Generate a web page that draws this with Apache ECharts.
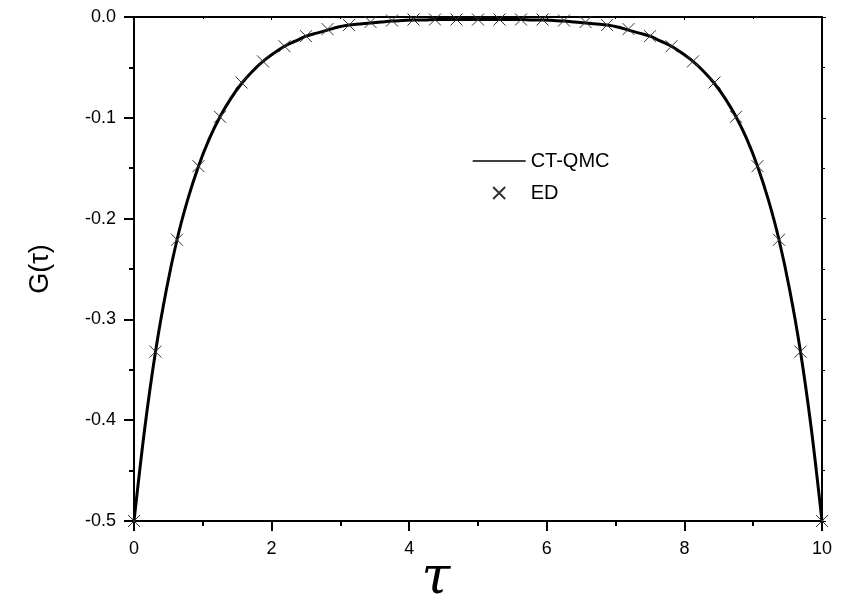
<!DOCTYPE html>
<html>
<head>
<meta charset="utf-8">
<script src="https://cdn.jsdelivr.net/npm/echarts@6/dist/echarts.min.js"></script>
<style>html,body{margin:0;padding:0;background:#fff;}#c{width:841px;height:601px;}</style>
</head>
<body>
<div id="c"></div>
<script>
// CT-QMC curve: tau values (step 10/64) and G values
const qmcTau = [];
for (let i = 0; i <= 64; i++) qmcTau.push(i * 10 / 64);
const qmcG = [
  -0.500, -0.408, -0.332, -0.271, -0.221, -0.181, -0.148, -0.121, -0.099, -0.081,
  -0.066, -0.054, -0.044, -0.036, -0.029, -0.024, -0.019, -0.016, -0.013, -0.010,
  -0.008, -0.007, -0.006, -0.005, -0.004, -0.0035, -0.003, -0.003, -0.0025, -0.0025,
  -0.0025, -0.0025, -0.0025,
  -0.0025, -0.0025, -0.0025, -0.0025, -0.003, -0.003, -0.0035, -0.004, -0.005, -0.006,
  -0.007, -0.008, -0.010, -0.013, -0.016, -0.019, -0.024, -0.029, -0.036, -0.044,
  -0.054, -0.066, -0.081, -0.099, -0.121, -0.148, -0.181, -0.221, -0.271, -0.332,
  -0.408, -0.500
];
// ED points: tau step 10/32
const edTau = [];
for (let i = 0; i <= 32; i++) edTau.push(i * 10 / 32);
const edG = [
  -0.500, -0.332, -0.221, -0.148, -0.099, -0.065, -0.044, -0.029, -0.019, -0.012,
  -0.008, -0.005, -0.0035, -0.0025, -0.0025, -0.0025, -0.0025, -0.0025, -0.0025, -0.0025,
  -0.0035, -0.005, -0.008, -0.012, -0.019, -0.029, -0.044, -0.065, -0.099, -0.148,
  -0.221, -0.332, -0.500
];
const xTicks = [0, 2, 4, 6, 8, 10];
const yTicks = [-0.5, -0.4, -0.3, -0.2, -0.1, 0.0];
const seriesNames = ['CT-QMC', 'ED'];

const chart = echarts.init(document.getElementById('c'), null, {renderer: 'canvas'});
const font = 'Liberation Sans, Arial, sans-serif';
const axisCommon = {
  axisLine: {show: true, onZero: false, lineStyle: {color: '#000', width: 2}},
  splitLine: {show: false}
};
chart.setOption({
  animation: false,
  backgroundColor: '#fff',
  grid: {left: 134, right: 19, top: 17, bottom: 80, containLabel: false, outerBoundsMode: 'none'},
  legend: {
    orient: 'vertical',
    left: 467,
    top: 146,
    itemWidth: 53,
    itemHeight: 12,
    itemGap: 12,
    textStyle: {fontFamily: font, fontSize: 20, color: '#000'},
    lineStyle: {width: 1.3, color: '#000'},
    data: [
      {name: seriesNames[0], itemStyle: {opacity: 0}},
      {name: seriesNames[1]}
    ]
  },
  xAxis: [{
    type: 'value', min: 0, max: 10, interval: 2,
    ...axisCommon,
    position: 'bottom',
    axisTick: {show: true, length: 10, inside: false, lineStyle: {color: '#000', width: 2}},
    minorTick: {show: true, splitNumber: 2, length: 5, lineStyle: {color: '#000', width: 2}},
    axisLabel: {margin: 19, fontFamily: font, fontSize: 18, color: '#000',
      formatter: v => xTicks.includes(v) ? String(v) : ''},
    name: 'τ', nameLocation: 'middle', nameGap: 32, nameMoveOverlap: false,
    nameTextStyle: {fontFamily: 'DejaVu Serif, serif', fontStyle: 'italic', fontSize: 52, color: '#000',
      padding: [0, 84, 0, 0]}
  }, {
    type: 'value', min: 0, max: 10, interval: 2,
    ...axisCommon,
    position: 'top',
    axisTick: {show: true, length: 3, inside: true, lineStyle: {color: '#000', width: 1}},
    minorTick: {show: true, splitNumber: 2, length: 2, lineStyle: {color: '#000', width: 1}},
    axisLabel: {show: false}
  }],
  yAxis: [{
    type: 'value', min: -0.5, max: 0, interval: 0.1,
    ...axisCommon,
    position: 'left',
    axisTick: {show: true, length: 10, inside: false, lineStyle: {color: '#000', width: 2}},
    minorTick: {show: true, splitNumber: 2, length: 5, lineStyle: {color: '#000', width: 2}},
    axisLabel: {margin: 18, fontFamily: font, fontSize: 18, color: '#000',
      formatter: v => v.toFixed(1)},
    name: 'G(τ)', nameLocation: 'middle', nameGap: 80, nameMoveOverlap: false,
    nameTextStyle: {fontFamily: font, fontSize: 27, color: '#000'}
  }, {
    type: 'value', min: -0.5, max: 0, interval: 0.1,
    ...axisCommon,
    position: 'right',
    axisTick: {show: true, length: 4, inside: false, lineStyle: {color: '#000', width: 1}},
    minorTick: {show: true, splitNumber: 2, length: 3, lineStyle: {color: '#000', width: 1}},
    axisLabel: {show: false}
  }],
  series: [{
    name: seriesNames[0],
    type: 'line',
    xAxisIndex: 0, yAxisIndex: 0,
    data: qmcTau.map((t, i) => [t, qmcG[i]]),
    smooth: 0.3,
    showSymbol: false,
    symbol: 'none',
    lineStyle: {color: '#000', width: 3},
    itemStyle: {color: '#000'},
    clip: true,
    z: 2
  }, {
    name: seriesNames[1],
    type: 'scatter',
    xAxisIndex: 0, yAxisIndex: 0,
    data: edTau.map((t, i) => [t, edG[i]]),
    symbol: 'path://M0,0L10,10M10,0L0,10',
    symbolKeepAspect: true,
    symbolSize: 12,
    itemStyle: {color: 'none', borderColor: '#333', borderWidth: 1, opacity: 1},
    clip: true,
    z: 3
  }]
});
</script>
</body>
</html>
